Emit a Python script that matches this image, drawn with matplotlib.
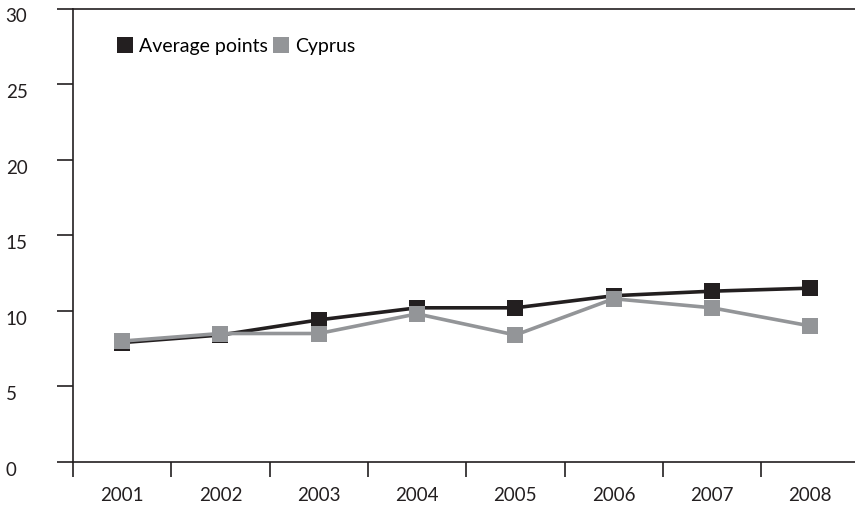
import matplotlib
matplotlib.use("Agg")
import matplotlib.pyplot as plt
import matplotlib.transforms as mtransforms
from matplotlib.lines import Line2D
import numpy as np

years = ["2001", "2002", "2003", "2004", "2005", "2006", "2007", "2008"]
average_points = [7.9, 8.4, 9.4, 10.2, 10.2, 11.0, 11.3, 11.5]
cyprus = [8.0, 8.5, 8.5, 9.8, 8.4, 10.8, 10.2, 9.0]
y_ticks = [0, 5, 10, 15, 20, 25, 30]

plt.rcParams['font.family'] = ['Lato', 'DejaVu Sans']

dark = '#231f20'
grey = '#939598'

fig = plt.figure(figsize=(8.55, 5.08), dpi=100)
ax = fig.add_axes([73/855, (508-462)/508, (855-73)/855, (462-8.5)/508])

x = np.arange(len(years))
ax.plot(x, average_points, color=dark, lw=2.6, marker='s', ms=11.5,
        markeredgewidth=0, zorder=3, label='Average points')
ax.plot(x, cyprus, color=grey, lw=2.6, marker='s', ms=11.5,
        markeredgewidth=0, zorder=4, label='Cyprus')

ax.set_xlim(-0.5, 7.455)
ax.set_ylim(0, 30)

for s in ['right']:
    ax.spines[s].set_visible(False)
for s in ['left', 'bottom', 'top']:
    ax.spines[s].set_color(dark)
    ax.spines[s].set_linewidth(1.2)

# y ticks
ax.set_yticks(y_ticks)
ax.set_yticklabels([str(v) for v in y_ticks])
ax.tick_params(axis='y', direction='out', length=11.5, width=1.2, color=dark,
               labelsize=13.5, labelcolor=dark, pad=37)
off = mtransforms.ScaledTranslation(0, -7/100, fig.dpi_scale_trans)
for lab in ax.get_yticklabels():
    lab.set_horizontalalignment('left')
    lab.set_transform(lab.get_transform() + off)

# x ticks: labels at centers, tick marks at boundaries
ax.set_xticks(x)
ax.set_xticklabels(years)
ax.tick_params(axis='x', which='major', length=0, labelsize=13.5,
               labelcolor=dark, pad=18)
ax.set_xticks(np.arange(-0.5, 7.0, 1.0), minor=True)
ax.tick_params(axis='x', which='minor', direction='out', length=11, width=1.2,
               color=dark)

handles = [Line2D([], [], marker='s', color=dark, ls='none', ms=11, markeredgewidth=0),
           Line2D([], [], marker='s', color=grey, ls='none', ms=11, markeredgewidth=0)]
ax.legend(handles, ['Average points', 'Cyprus'], loc='upper left',
          bbox_to_anchor=(0.047, 0.953), ncol=2, frameon=False,
          fontsize=14, handlelength=0.8, handletextpad=0.3,
          columnspacing=0.3, borderaxespad=0)

fig.savefig('out.png', dpi=100)
